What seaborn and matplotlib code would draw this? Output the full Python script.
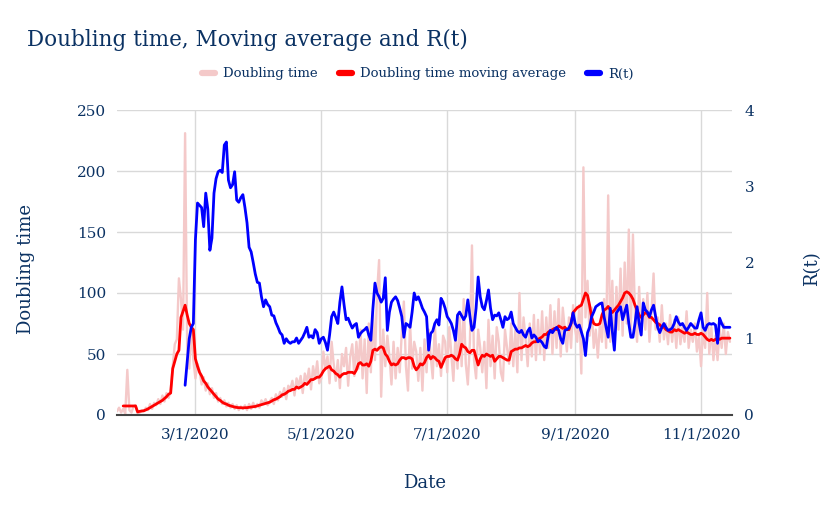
import matplotlib
matplotlib.use("Agg")
import matplotlib.pyplot as plt
import seaborn as sns
import pandas as pd
from matplotlib.lines import Line2D

# ---------------- data ----------------
dt_start = "2020-01-23"
doubling_time = [
    # Jan 23 - Jan 31
    3, 6, 2, 5, 1, 37, 4, 2, 7,
    # Feb
    8, 1, 2, 4, 3, 6, 4, 9, 5, 10, 8, 13, 9, 16, 11, 18, 14, 20, 40, 58, 62, 112, 95, 70, 231, 55, 38, 72, 45,
    # Mar
    30, 42, 36, 25, 31, 20, 26, 17, 22, 14, 18, 11, 14, 9, 12, 7, 10, 6, 9, 5, 8, 4, 7, 5, 8, 4, 9, 5, 10, 6, 9,
    # Apr
    6, 12, 9, 13, 8, 11, 14, 9, 17, 12, 19, 15, 22, 13, 24, 21, 28, 16, 30, 24, 32, 18, 34, 27, 38, 21, 40, 30, 44, 26,
    # May
    30, 52, 38, 48, 26, 60, 42, 28, 45, 22, 50, 40, 55, 24, 48, 58, 32, 60, 38, 70, 30, 62, 18, 75, 35, 85, 45, 100, 127, 15, 70,
    # Jun
    40, 65, 48, 25, 60, 30, 55, 35, 68, 93, 40, 20, 75, 38, 60, 52, 28, 55, 20, 62, 35, 70, 48, 30, 75, 40, 58, 32, 65, 60,
    # Jul
    35, 72, 50, 28, 65, 38, 80, 40, 95, 42, 25, 60, 139, 45, 30, 70, 55, 35, 60, 22, 78, 40, 65, 30, 72, 60, 35, 28, 70, 55, 42,
    # Aug
    75, 40, 70, 35, 100, 45, 80, 62, 40, 75, 48, 82, 45, 78, 50, 85, 45, 80, 55, 90, 50, 85, 55, 95, 48, 88, 70, 52, 80, 55, 90,
    # Sep
    70, 60, 90, 34, 203, 80, 110, 65, 88, 55, 70, 47, 75, 60, 95, 55, 180, 60, 110, 55, 105, 70, 120, 65, 125, 75, 152, 70, 148, 80,
    # Oct
    60, 105, 65, 95, 70, 100, 60, 85, 116, 70, 80, 60, 90, 62, 75, 58, 82, 60, 78, 55, 80, 58, 72, 60, 85, 55, 70, 60, 75, 52, 65,
    # Nov 1 - Nov 15
    40, 70, 55, 100, 50, 72, 45, 65, 45, 70, 55, 75, 50, 68, 60,
]

ma_start = "2020-01-26"
doubling_ma = [
    7.4, 7.4, 7.4, 7.4, 7.4, 7.4, 7.4,
    2.5, 3, 3.2, 3.5, 4.2, 5, 6, 7, 8, 9,
    10, 11, 12, 13.5, 15, 17, 18, 38, 44, 50,
    53, 80, 85, 90, 82, 75, 72, 70, 46, 40,
    35, 32, 28, 26, 23, 21, 19, 17, 15, 13,
    12, 10.5, 9.5, 9, 8, 7.5, 7, 6.5, 6.2, 6,
    6, 5.8, 6, 6, 6.3, 6.5, 6.8, 7, 7.5, 8,
    8.5, 9, 9.5, 10, 10.5, 11.5, 12.5, 13, 14, 15,
    16.5, 17, 18, 19.5, 20, 21, 21, 23, 22, 23,
    24, 26, 25, 27, 29, 29, 30, 31, 31, 33,
    36, 38, 39, 40, 37, 36, 34, 33, 31, 33,
    34, 34, 35, 35, 35, 34, 37, 42, 43, 41,
    41, 42, 40, 44, 53, 54, 53, 55, 56, 55,
    50, 48, 44, 41, 42, 41, 42, 45, 47, 47,
    46, 47, 47, 46, 40, 37, 39, 42, 41, 43,
    47, 49, 46, 48, 47, 45, 44, 39, 43, 47,
    48, 48, 49, 48, 46, 45, 50, 58, 56, 55,
    52, 51, 53, 53, 47, 41, 46, 49, 48, 50,
    49, 48, 49, 44, 46, 48, 48, 47, 46, 45,
    45, 52, 53, 54, 54, 55, 55, 56, 57, 56,
    57, 59, 60, 60, 62, 63, 64, 66, 66, 68,
    69, 70, 71, 70, 73, 72, 71, 72, 70, 70,
    75, 84, 86, 88, 89, 90, 95, 100, 98, 90,
    80, 75, 74, 74, 75, 82, 86, 87, 89, 86,
    84, 86, 88, 90, 93, 96, 100, 101, 100, 98,
    95, 90, 86, 82, 80, 82, 84, 83, 80, 80,
    78, 76, 75, 74, 72, 72, 70, 69, 68, 68,
    70, 69, 70, 69, 68, 67, 68, 67, 66, 66,
    67, 66, 66, 67, 66, 64, 62, 61, 62, 61,
    62, 63, 62, 63, 63, 63, 63, 63,
]

rt_start = "2020-02-25"
r_t = [
    0.39, 0.7, 1.0, 1.15, 1.2, 2.3, 2.78,
    2.75, 2.72, 2.47, 2.91, 2.7, 2.16, 2.32, 2.91, 3.1, 3.19,
    3.21, 3.18, 3.54, 3.58, 3.08, 2.98, 3.02, 3.19, 2.82, 2.79,
    2.85, 2.89, 2.72, 2.52, 2.2, 2.14, 2.0, 1.85, 1.74, 1.73,
    1.55, 1.42, 1.51, 1.45, 1.42, 1.31, 1.3, 1.21, 1.15, 1.08,
    1.05, 0.94, 1.0, 0.96, 0.94, 0.96, 0.96, 1.01, 0.94, 0.98,
    1.02, 1.08, 1.15, 1.02, 1.04, 1.01, 1.12, 1.08, 0.94, 1.0,
    1.02, 0.95, 0.85, 1.05, 1.29, 1.35, 1.28, 1.2, 1.48, 1.68,
    1.45, 1.25, 1.27, 1.2, 1.14, 1.18, 1.2, 1.02, 1.07, 1.1,
    1.12, 1.15, 1.05, 0.98, 1.4, 1.73, 1.6, 1.55, 1.48, 1.53,
    1.8, 1.11, 1.35, 1.48, 1.52, 1.55, 1.5, 1.4, 1.29, 1.02,
    1.2, 1.18, 1.15, 1.35, 1.6, 1.51, 1.55, 1.48, 1.4, 1.35,
    1.29, 0.85, 1.07, 1.1, 1.2, 1.25, 1.18, 1.53, 1.48, 1.4,
    1.29, 1.25, 1.2, 1.11, 0.98, 1.31, 1.35, 1.3, 1.25, 1.3,
    1.51, 1.3, 1.11, 1.15, 1.4, 1.81, 1.55, 1.42, 1.38, 1.5,
    1.64, 1.4, 1.25, 1.31, 1.3, 1.34, 1.25, 1.15, 1.29, 1.25,
    1.27, 1.35, 1.2, 1.15, 1.1, 1.08, 1.11, 1.05, 1.02, 1.1,
    1.14, 1.01, 1.05, 1.02, 0.96, 0.98, 0.95, 0.9, 0.88, 1.05,
    1.11, 1.08, 1.12, 1.15, 1.11, 1.0, 0.94, 1.11, 1.12, 1.14,
    1.2, 1.34, 1.2, 1.15, 1.18, 1.09, 1.0, 0.78, 1.08, 1.15,
    1.29, 1.35, 1.42, 1.44, 1.46, 1.47, 1.29, 1.15, 1.02, 1.4,
    1.1, 0.85, 1.34, 1.38, 1.42, 1.25, 1.35, 1.44, 1.2, 1.02,
    1.02, 1.2, 1.42, 1.2, 1.05, 1.47, 1.38, 1.35, 1.29, 1.38,
    1.44, 1.29, 1.15, 1.08, 1.15, 1.2, 1.15, 1.11, 1.12, 1.14,
    1.2, 1.29, 1.22, 1.18, 1.2, 1.15, 1.11, 1.15, 1.2, 1.17,
    1.14, 1.14, 1.25, 1.34, 1.15, 1.11, 1.18, 1.2, 1.19, 1.2,
    1.18, 0.94, 1.27, 1.2, 1.15, 1.15, 1.15, 1.15,
]

x_tick_labels = ["3/1/2020", "5/1/2020", "7/1/2020", "9/1/2020", "11/1/2020"]
left_ticks = [0, 50, 100, 150, 200, 250]
right_ticks = [0, 1, 2, 3, 4]
series_names = ["Doubling time", "Doubling time moving average", "R(t)"]

# ---------------- style ----------------
TXT = "#0b3263"
PINK = "#f4c9c9"
RED = "#ff0000"
BLUE = "#0000ff"
GRID = "#d9d9d9"

sns.set_theme(style="white")
plt.rcParams["font.family"] = ["DejaVu Serif", "DejaVu Sans"]

W, H = 836, 517
fig = plt.figure(figsize=(W / 100, H / 100), dpi=100)
ax = fig.add_axes([117 / W, (H - 415) / H, 615 / W, 305 / H])
ax2 = ax.twinx()

df_dt = pd.DataFrame({"date": pd.date_range(dt_start, periods=len(doubling_time)), "v": doubling_time})
df_ma = pd.DataFrame({"date": pd.date_range(ma_start, periods=len(doubling_ma)), "v": doubling_ma})
df_rt = pd.DataFrame({"date": pd.date_range(rt_start, periods=len(r_t)), "v": r_t})

sns.lineplot(data=df_dt, x="date", y="v", ax=ax, color=PINK, linewidth=1.7, zorder=2)
sns.lineplot(data=df_ma, x="date", y="v", ax=ax, color=RED, linewidth=2.0, zorder=3)
sns.lineplot(data=df_rt, x="date", y="v", ax=ax2, color=BLUE, linewidth=2.0, zorder=3)

ax.set_xlim(pd.Timestamp("2020-01-23"), pd.Timestamp("2020-11-16"))
ax.set_ylim(0, 250)
ax2.set_ylim(0, 4)
ax.set_yticks(left_ticks)
ax2.set_yticks(right_ticks)
ax.set_xticks(pd.to_datetime(x_tick_labels, format="%m/%d/%Y"))
ax.set_xticklabels(x_tick_labels)

ax.set_axisbelow(True)
ax.grid(True, color=GRID, linewidth=1)
ax2.grid(False)
for s in ["top", "left", "right"]:
    ax.spines[s].set_visible(False)
for s in ["top", "left", "right", "bottom"]:
    ax2.spines[s].set_visible(False)
ax.spines["bottom"].set_color("#444444")
ax.spines["bottom"].set_linewidth(1.5)

ax.tick_params(axis="x", length=0, labelsize=11, labelcolor=TXT, pad=9)
ax.tick_params(axis="y", length=0, labelsize=11, labelcolor=TXT, pad=8)
ax2.tick_params(axis="y", length=0, labelsize=11, labelcolor=TXT, pad=9)

ax.set_xlabel("Date", fontsize=13, color=TXT)
ax.xaxis.set_label_coords(0.5, -0.195)
ax.set_ylabel("Doubling time", fontsize=13, color=TXT)
ax.yaxis.set_label_coords(-0.133, 0.48)
ax2.set_ylabel("R(t)", fontsize=13, color=TXT)
ax2.yaxis.set_label_coords(1.115, 0.48)

fig.text(27 / W, 1 - 40 / H, "Doubling time, Moving average and R(t)",
         fontsize=15.5, color=TXT, ha="left", va="center")

handles = [Line2D([], [], color=c, linewidth=4.5) for c in (PINK, RED, BLUE)]
fig.legend(handles, series_names, loc="center", bbox_to_anchor=(0.5, 1 - 74 / H), ncol=3,
           frameon=False, fontsize=9.5, handlelength=1.0, handletextpad=0.6,
           columnspacing=1.6, labelcolor=TXT)

fig.savefig("out.png", dpi=100)
